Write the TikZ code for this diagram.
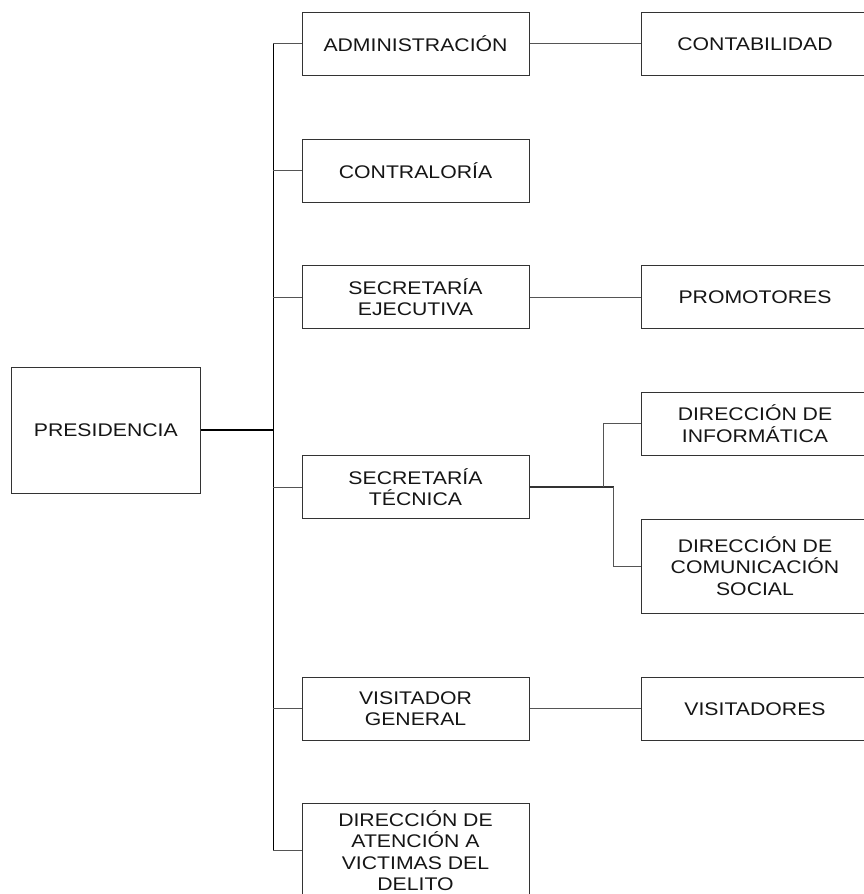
\documentclass[tikz,border=0pt]{standalone}
\usepackage{fontspec}
\setmainfont{Liberation Sans}[FakeStretch=1.16]
\definecolor{boxline}{HTML}{333333}
\definecolor{conn}{HTML}{555555}
\definecolor{txt}{HTML}{151515}
\begin{document}
\begin{tikzpicture}[x=1pt,y=-1pt,
  unit/.style={draw=boxline, line width=1pt, rectangle, align=center, inner sep=0pt,
    text=txt, font=\fontsize{18.3}{21.6}\selectfont},
  midbox/.style={unit, minimum width=227pt, minimum height=63pt},
  rightbox/.style={unit, minimum width=228pt, minimum height=63pt},
  conline/.style={draw=conn, line width=1pt},
  busline/.style={draw=black, line width=1.4pt}]
\useasboundingbox (0,0) rectangle (864,894);
\clip (0,0) rectangle (864,894);

% Presidencia
\node[unit, minimum width=189pt, minimum height=126pt] (pres) at (105.8,430) {PRESIDENCIA};

% Middle column
\node[midbox] (adm) at (415.5,43.8) {ADMINISTRACIÓN};
\node[midbox] (contr) at (415.5,170.5) {CONTRALORÍA};
\node[midbox] (secej) at (415.5,297.2) {SECRETARÍA\\EJECUTIVA};
\node[midbox] (sectec) at (415.5,487) {SECRETARÍA\\TÉCNICA};
\node[midbox] (visg) at (415.5,708.7) {VISITADOR\\GENERAL};
\node[midbox, minimum height=94pt] (dav) at (415.5,850.7) {DIRECCIÓN DE\\ATENCIÓN A\\VICTIMAS DEL\\DELITO};

% Right column
\node[rightbox] (cont) at (755,43.8) {CONTABILIDAD};
\node[rightbox] (prom) at (755,297.2) {PROMOTORES};
\node[rightbox] (dinf) at (755,423.8) {DIRECCIÓN DE\\INFORMÁTICA};
\node[rightbox, minimum height=94pt] (dcom) at (755,566) {DIRECCIÓN DE\\COMUNICACIÓN\\SOCIAL};
\node[rightbox] (visi) at (755,708.7) {VISITADORES};

% Bus
\coordinate (bustop) at (273.3,43.8);
\coordinate (busbot) at (273.3,850.7);
\coordinate (buspres) at (273.3,430);
\draw[busline] (bustop) -- (busbot);
\draw[draw=black, line width=2pt] (pres.east) -- (buspres);

% Bus to middle boxes
\foreach \n in {adm,contr,secej,sectec,visg,dav}{
  \draw[conline] (\n.west) -- (\n.west -| bustop);
}

% Middle to right
\draw[conline] (adm.east) -- (cont.west);
\draw[conline] (secej.east) -- (prom.west);
\draw[conline] (visg.east) -- (visi.west);

% Secretaria tecnica branches
\coordinate (e1) at (603.7,487);
\coordinate (e2) at (613.7,487);
\draw[draw=boxline, line width=1.3pt] (sectec.east) -- (e2);
\draw[conline] (e1) -- (e1 |- dinf.west) -- (dinf.west);
\draw[conline] (e2) -- (e2 |- dcom.west) -- (dcom.west);
\end{tikzpicture}
\end{document}
